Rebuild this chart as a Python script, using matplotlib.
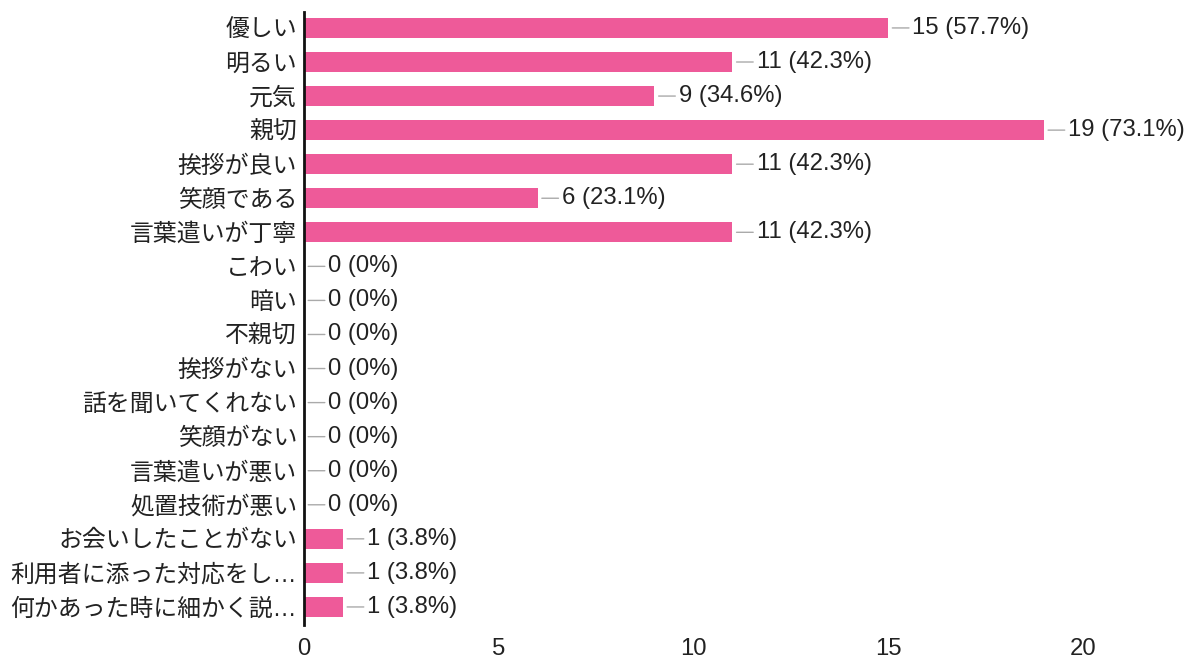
import matplotlib
matplotlib.use("Agg")
import matplotlib.pyplot as plt

plt.rcParams['font.family'] = ['Liberation Sans', 'Noto Sans CJK JP', 'DejaVu Sans']

# data
labels = ['優しい', '明るい', '元気', '親切', '挨拶が良い', '笑顔である', '言葉遣いが丁寧',
          'こわい', '暗い', '不親切', '挨拶がない', '話を聞いてくれない', '笑顔がない',
          '言葉遣いが悪い', '処置技術が悪い', 'お会いしたことがない',
          '利用者に添った対応をし…', '何かあった時に細かく説…']
counts = [15, 11, 9, 19, 11, 6, 11, 0, 0, 0, 0, 0, 0, 0, 0, 1, 1, 1]
pcts = ['57.7%', '42.3%', '34.6%', '73.1%', '42.3%', '23.1%', '42.3%',
        '0%', '0%', '0%', '0%', '0%', '0%', '0%', '0%', '3.8%', '3.8%', '3.8%']
xticks = [0, 5, 10, 15, 20]

bar_color = '#ee5a99'
text_color = '#222222'
fs = 17.2

fig = plt.figure(figsize=(11.88, 6.63), dpi=100)
ax = fig.add_axes([0.2559, 0.0573, 0.7441, 0.9247])

ypos = list(range(len(labels)))
ax.barh(ypos, counts, height=0.59, color=bar_color, zorder=2)

# value labels with small leader lines
for y, c, p in zip(ypos, counts, pcts):
    ax.annotate(f'{c} ({p})', xy=(c, y), xytext=(17.5, 0), textcoords='offset points',
                va='center', ha='left', fontsize=fs, color=text_color,
                arrowprops=dict(arrowstyle='-', color='#aaaaaa', lw=1.0,
                                shrinkA=0.5, shrinkB=3))

ax.set_yticks(ypos)
ax.set_yticklabels(labels, fontsize=fs, color=text_color)
ax.set_ylim(17.53, -0.47)
ax.set_xlim(0, 22.7)
ax.set_xticks(xticks)
ax.set_xticklabels([str(t) for t in xticks], fontsize=fs, color=text_color)
ax.tick_params(axis='y', length=0, pad=5)
ax.tick_params(axis='x', length=0, pad=9)

for s in ['top', 'right', 'bottom']:
    ax.spines[s].set_visible(False)
ax.spines['left'].set_linewidth(2)
ax.spines['left'].set_color('#111111')
ax.spines['left'].set_zorder(3)

fig.savefig('out.png', dpi=100)
